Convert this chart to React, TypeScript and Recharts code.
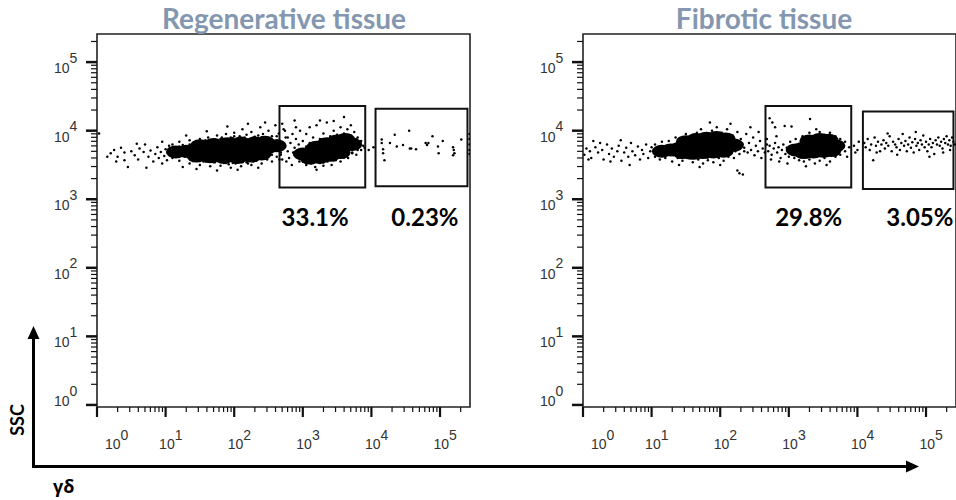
import { ScatterChart, Scatter, XAxis, YAxis, ReferenceArea, ReferenceDot } from "recharts";

// axis layout in log10 units
const X_MAX = 5.437;
const Y_MIN = -0.03;
const Y_MAX = 5.41;
const decades = [0, 1, 2, 3, 4, 5];
const minorSteps = [2, 3, 4, 5, 6, 7, 8, 9];

const panelTitles = ["Regenerative tissue", "Fibrotic tissue"];

// dense cores (log10 gd, log10 SSC)
const leftCore = [
  [1.15, 3.69], [1.3, 3.7], [1.45, 3.7], [1.6, 3.71], [1.75, 3.72], [1.9, 3.72], [2.05, 3.73], [2.2, 3.74], [2.35, 3.75], [2.5, 3.76], [2.62, 3.78],
  [1.5, 3.78], [1.7, 3.8], [1.9, 3.81], [2.1, 3.82], [2.3, 3.82], [2.45, 3.83],
  [1.45, 3.63], [1.65, 3.62], [1.85, 3.61], [2.05, 3.61], [2.25, 3.63], [2.4, 3.66],
  [3.0, 3.66], [3.12, 3.68], [3.25, 3.7], [3.38, 3.73], [3.5, 3.76], [3.62, 3.79], [3.72, 3.8],
  [3.2, 3.76], [3.35, 3.81], [3.5, 3.85], [3.62, 3.87],
  [3.1, 3.6], [3.25, 3.61], [3.4, 3.64], [3.55, 3.68],
];

const leftSparse = [
  [0.03, 3.96], [0.2, 3.67], [0.25, 3.72], [0.3, 3.62], [0.28, 3.55], [0.35, 3.75], [0.4, 3.68], [0.45, 3.47], [0.5, 3.7], [0.55, 3.64],
  [0.6, 3.58], [0.62, 3.74], [0.68, 3.69], [0.7, 3.8], [0.75, 3.62], [0.78, 3.71], [0.82, 3.55], [0.85, 3.66], [0.88, 3.76], [0.9, 3.6],
  [0.93, 3.69], [0.95, 3.84], [0.98, 3.63], [1.0, 3.73], [1.02, 3.57], [1.05, 3.78], [0.72, 3.46], [0.58, 3.81], [0.4, 3.57], [0.15, 3.62],
  [1.1, 3.8], [1.2, 3.84], [1.25, 3.79], [1.35, 3.86], [1.4, 3.82], [1.5, 3.88], [1.55, 3.84], [1.62, 3.9], [1.68, 3.86], [1.75, 3.93],
  [1.8, 3.88], [1.88, 3.95], [1.95, 3.9], [2.0, 3.97], [2.08, 3.92], [2.12, 4.02], [2.18, 3.94], [2.25, 3.98], [2.3, 3.91], [2.38, 4.05],
  [2.42, 3.95], [2.5, 4.0], [2.55, 3.92], [2.6, 4.08], [2.65, 3.96], [2.72, 4.02], [2.78, 3.9], [1.9, 4.06], [2.2, 4.1], [1.6, 3.99],
  [1.3, 3.93], [2.45, 4.12],
  [1.1, 3.6], [1.2, 3.56], [1.28, 3.62], [1.35, 3.52], [1.42, 3.58], [1.5, 3.5], [1.58, 3.55], [1.65, 3.48], [1.72, 3.54], [1.8, 3.49],
  [1.88, 3.53], [1.95, 3.46], [2.02, 3.52], [2.1, 3.48], [2.18, 3.54], [2.25, 3.5], [2.32, 3.56], [2.4, 3.52], [2.48, 3.58], [2.55, 3.55],
  [2.62, 3.62], [2.7, 3.58], [1.25, 3.47], [1.75, 3.42], [2.05, 3.43], [1.45, 3.44], [2.35, 3.46], [0.95, 3.52], [1.55, 3.62], [2.0, 3.58],
  [1.35, 3.8], [1.45, 3.84], [1.58, 3.86], [1.72, 3.87], [1.82, 3.9], [1.98, 3.89], [2.15, 3.9], [2.28, 3.9], [2.4, 3.9], [2.52, 3.88],
  [2.62, 3.86], [1.2, 3.77], [2.0, 3.92], [2.35, 3.93],
  [1.3, 3.63], [1.4, 3.57], [1.55, 3.55], [1.7, 3.54], [1.85, 3.53], [1.98, 3.53], [2.12, 3.54], [2.28, 3.55], [2.42, 3.59], [2.55, 3.65],
  [2.68, 3.68], [1.25, 3.64], [1.92, 3.51], [2.2, 3.52],
  [2.6, 3.72], [2.65, 3.85], [2.68, 3.65], [2.72, 3.78], [2.75, 3.9], [2.78, 3.7], [2.8, 3.6], [2.82, 3.82], [2.85, 3.95], [2.86, 3.68],
  [2.88, 3.75], [2.9, 3.88], [2.92, 3.62], [2.94, 3.8], [2.96, 4.0], [2.98, 3.7], [2.7, 4.1], [2.88, 4.15], [2.76, 3.55], [2.95, 3.55],
  [2.84, 3.5], [2.66, 3.58], [2.58, 3.82], [2.9, 4.05], [2.74, 4.0], [2.62, 3.92],
  [3.0, 3.85], [3.05, 3.95], [3.1, 3.82], [3.15, 3.9], [3.2, 4.08], [3.25, 3.88], [3.3, 3.96], [3.35, 4.12], [3.4, 3.92], [3.45, 4.0],
  [3.5, 3.94], [3.55, 4.05], [3.6, 3.96], [3.65, 4.02], [3.7, 3.93], [3.75, 3.98], [3.8, 3.9], [3.85, 3.85], [3.1, 4.05], [3.45, 4.14],
  [3.7, 4.08], [3.6, 4.2], [3.25, 4.15],
  [3.05, 3.77], [3.15, 3.82], [3.28, 3.87], [3.42, 3.9], [3.55, 3.93], [3.68, 3.93], [3.78, 3.88], [3.83, 3.8],
  [3.02, 3.58], [3.15, 3.53], [3.3, 3.54], [3.45, 3.57], [3.6, 3.61], [3.72, 3.67], [3.8, 3.72],
  [3.0, 3.55], [3.05, 3.5], [3.12, 3.52], [3.18, 3.47], [3.25, 3.53], [3.3, 3.49], [3.36, 3.55], [3.42, 3.5], [3.48, 3.57], [3.55, 3.55],
  [3.6, 3.62], [3.66, 3.6], [3.72, 3.68], [3.78, 3.65], [3.85, 3.72], [3.88, 3.78], [3.82, 3.82], [3.9, 3.75], [3.2, 3.43],
  [3.96, 3.72], [4.03, 3.76],
  [4.15, 3.87], [4.15, 3.82], [4.17, 3.73], [4.17, 3.67], [4.19, 3.57], [4.27, 3.82], [4.34, 3.94], [4.37, 3.77], [4.46, 3.79], [4.55, 4.0],
  [4.56, 3.74], [4.58, 3.74], [4.65, 3.73], [4.79, 3.82], [4.81, 3.79], [4.83, 3.82], [4.89, 3.92], [4.97, 3.77], [4.98, 3.67], [5.04, 3.85],
  [5.19, 3.76], [5.2, 3.72], [5.21, 3.67], [5.19, 3.64], [5.31, 3.87],
  [5.43, 3.95], [5.43, 3.88], [5.43, 3.8], [5.43, 3.72], [5.43, 3.66],
];

const rightCore = [
  [1.15, 3.7], [1.28, 3.72], [1.4, 3.74], [1.52, 3.76], [1.64, 3.78], [1.76, 3.79], [1.88, 3.8], [2.0, 3.8], [2.12, 3.8], [2.2, 3.79],
  [1.5, 3.84], [1.65, 3.87], [1.8, 3.89], [1.95, 3.9], [2.08, 3.88],
  [1.45, 3.68], [1.6, 3.67], [1.75, 3.68], [1.9, 3.69], [2.05, 3.7],
  [3.1, 3.72], [3.2, 3.74], [3.3, 3.76], [3.4, 3.78], [3.5, 3.79], [3.6, 3.79], [3.68, 3.78],
  [3.3, 3.85], [3.45, 3.87], [3.58, 3.86],
  [3.22, 3.68], [3.36, 3.69], [3.5, 3.7], [3.62, 3.71],
];

const rightSparse = [
  [0.02, 3.65], [0.05, 3.74], [0.1, 3.7], [0.12, 3.6], [0.18, 3.76], [0.22, 3.68], [0.28, 3.72], [0.3, 3.58], [0.35, 3.8], [0.38, 3.66],
  [0.42, 3.74], [0.45, 3.62], [0.5, 3.7], [0.52, 3.78], [0.56, 3.56], [0.6, 3.68], [0.63, 3.75], [0.66, 3.62], [0.7, 3.82], [0.72, 3.7],
  [0.76, 3.64], [0.8, 3.77], [0.83, 3.58], [0.86, 3.72], [0.88, 3.66], [0.92, 3.8], [0.95, 3.6], [0.98, 3.7], [1.0, 3.76], [0.25, 3.82],
  [0.55, 3.86], [0.4, 3.55], [0.15, 3.85], [0.08, 3.58], [0.68, 3.5],
  [1.05, 3.8], [1.15, 3.84], [1.25, 3.85], [1.35, 3.9], [1.42, 3.82], [1.5, 3.95], [1.58, 3.92], [1.66, 3.97], [1.72, 4.02], [1.8, 3.96],
  [1.88, 4.0], [1.95, 4.05], [2.02, 3.97], [2.1, 4.02], [2.18, 3.93], [2.25, 3.98], [2.3, 3.88], [1.85, 4.12], [2.15, 4.1],
  [1.05, 3.62], [1.12, 3.58], [1.2, 3.6], [1.3, 3.55], [1.38, 3.6], [1.45, 3.56], [1.52, 3.6], [1.6, 3.54], [1.68, 3.58], [1.75, 3.52],
  [1.82, 3.57], [1.9, 3.54], [1.98, 3.6], [2.05, 3.56], [2.12, 3.62], [2.2, 3.6], [2.28, 3.66], [2.35, 3.7], [1.4, 3.5], [1.7, 3.47], [2.0, 3.5],
  [1.25, 3.78], [1.38, 3.82], [1.48, 3.9], [1.62, 3.94], [1.78, 3.96], [1.92, 3.97], [2.05, 3.95], [2.18, 3.88], [2.26, 3.84], [1.7, 3.93], [2.0, 3.93],
  [1.2, 3.64], [1.32, 3.64], [1.42, 3.61], [1.55, 3.6], [1.68, 3.6], [1.82, 3.61], [1.96, 3.62], [2.1, 3.65], [2.22, 3.7], [2.28, 3.74],
  [2.35, 3.75], [2.4, 3.68], [2.42, 3.82], [2.45, 3.72], [2.48, 3.9], [2.5, 3.64], [2.52, 3.78], [2.55, 3.7], [2.58, 3.85], [2.6, 3.6],
  [2.62, 3.74], [2.65, 3.68], [2.68, 3.8], [2.38, 3.95], [2.28, 3.38], [2.33, 3.36], [2.25, 3.42], [2.44, 4.05], [2.56, 3.98],
  [2.7, 3.7], [2.72, 3.78], [2.75, 3.65], [2.78, 3.74], [2.8, 3.82], [2.83, 3.68], [2.85, 3.76], [2.88, 3.6], [2.9, 3.72], [2.92, 3.8],
  [2.95, 3.66], [2.97, 3.75], [3.0, 3.62], [3.02, 3.84], [2.74, 3.58], [2.86, 3.55], [2.98, 3.52], [2.68, 3.88], [2.82, 3.92], [2.72, 4.18],
  [2.76, 4.12], [2.8, 4.05], [2.94, 4.07], [3.04, 4.06], [3.31, 4.17],
  [3.18, 3.8], [3.26, 3.84], [3.38, 3.92], [3.52, 3.93], [3.64, 3.91], [3.72, 3.84], [3.78, 3.8],
  [3.12, 3.65], [3.26, 3.62], [3.42, 3.63], [3.56, 3.63], [3.68, 3.66], [3.76, 3.72],
  [3.1, 3.88], [3.2, 3.92], [3.3, 3.97], [3.38, 3.93], [3.45, 3.98], [3.52, 3.94], [3.6, 3.97], [3.68, 3.92], [3.75, 3.88], [3.82, 3.84], [3.4, 4.02],
  [3.08, 3.6], [3.15, 3.57], [3.22, 3.55], [3.3, 3.58], [3.38, 3.52], [3.45, 3.56], [3.52, 3.6], [3.6, 3.55], [3.68, 3.62], [3.75, 3.65],
  [3.82, 3.7], [3.88, 3.76], [3.85, 3.62], [3.25, 3.48], [3.55, 3.5],
  [3.95, 3.78], [4.0, 3.72], [4.02, 3.84], [3.97, 3.68],
  [4.1, 3.82], [4.12, 3.76], [4.15, 3.88], [4.18, 3.72], [4.2, 3.8], [4.23, 3.57], [4.25, 3.9], [4.27, 3.78], [4.3, 3.84], [4.33, 3.7],
  [4.35, 3.8], [4.38, 3.86], [4.4, 3.74], [4.42, 3.82], [4.45, 3.78], [4.47, 3.92], [4.5, 3.7], [4.52, 3.84], [4.55, 3.8], [4.57, 3.76],
  [4.6, 3.88], [4.62, 3.72], [4.64, 3.82], [4.66, 3.95], [4.68, 3.78], [4.7, 3.85], [4.72, 3.7], [4.74, 3.8], [4.76, 3.9], [4.78, 3.75],
  [4.8, 3.83], [4.82, 3.68], [4.84, 3.88], [4.86, 3.78], [4.88, 3.82], [4.9, 3.72], [4.92, 3.86], [4.94, 3.8], [4.96, 3.93], [4.98, 3.76],
  [5.0, 3.84], [5.02, 3.7], [5.04, 3.8], [5.06, 3.88], [5.08, 3.76], [5.1, 3.82], [5.12, 3.66], [5.14, 3.86], [5.16, 3.8], [5.18, 3.9],
  [5.2, 3.78], [5.22, 3.84], [5.24, 3.74], [5.26, 3.88], [5.28, 3.82], [5.3, 3.92], [5.32, 3.8], [5.34, 3.86], [5.36, 3.78], [5.38, 3.9],
  [5.4, 3.84], [5.42, 3.8], [4.28, 3.68], [4.58, 3.65], [4.85, 3.98], [5.05, 3.62], [5.25, 3.68], [4.44, 3.96], [5.35, 3.72],
];

// gates [x1, x2, y1, y2] in log10 units
const leftGates = [[2.66, 3.91, 3.17, 4.36], [4.06, 5.4, 3.19, 4.32]];
const rightGates = [[2.66, 3.91, 3.17, 4.36], [4.08, 5.4, 3.15, 4.28]];

const leftPercents = ["33.1%", "0.23%"];
const rightPercents = ["29.8%", "3.05%"];
const leftPercentX = [3.18, 4.78];
const rightPercentX = [3.29, 4.91];

const xTicks = [...decades, ...decades.flatMap((d) => minorSteps.map((k) => d + Math.log10(k)))].filter((v) => v <= X_MAX);
const yTicks = xTicks.filter((v) => v <= Y_MAX);

const toPts = (arr: number[][]) => arr.map(([x, y]) => ({ x, y }));

const isMajor = (v: number) => Math.abs(v - Math.round(v)) < 1e-6;
const tickFont = "'Liberation Sans', Arial, sans-serif";

const XTick = (props: any) => {
  const { x, y, payload } = props;
  const v = payload.value;
  const major = isMajor(v);
  return (
    <g>
      <line x1={x} x2={x} y1={y} y2={y + (major ? 10 : 5)} stroke="#111" strokeWidth={major ? 2.2 : 1.2} />
      {major && (
        <text x={x + (v === 0 ? 8 : -6.5)} y={y + 42} fontFamily={tickFont} fontSize={14} fill="#333">
          10<tspan dy={-9.5}>{Math.round(v)}</tspan>
        </text>
      )}
    </g>
  );
};

const YTick = (props: any) => {
  const { x, y, payload } = props;
  const v = payload.value;
  const major = isMajor(v);
  return (
    <g>
      <line x1={x - (major ? 11 : 6)} x2={x} y1={y} y2={y} stroke="#111" strokeWidth={major ? 2.5 : 1.2} />
      {major && (
        <text x={x - 43} y={y + (Math.round(v) === 0 ? 1.5 : 11)} fontFamily={tickFont} fontSize={14} fill="#333">
          10<tspan dy={-10.5}>{Math.round(v)}</tspan>
        </text>
      )}
    </g>
  );
};

const Blob = (p: any) => <ellipse cx={p.cx} cy={p.cy} rx={10} ry={6.5} fill="#000" />;
const Speck = (p: any) => <circle cx={p.cx} cy={p.cy} r={1.25} fill="#000" />;

function Panel({ left, core, sparse, gates, percents, percentX }: any) {
  return (
    <div style={{ position: "absolute", left, top: 0 }}>
      <ScatterChart width={480} height={457} margin={{ top: 34, right: 10, bottom: 0, left: 0 }}>
        <XAxis type="number" dataKey="x" domain={[0, X_MAX]} ticks={xTicks} interval={0} tick={<XTick />}
          tickLine={false} axisLine={false} tickSize={0} tickMargin={0} height={50} allowDataOverflow />
        <YAxis type="number" dataKey="y" domain={[Y_MIN, Y_MAX]} ticks={yTicks} interval={0} tick={<YTick />}
          tickLine={false} axisLine={false} tickSize={0} tickMargin={0} width={97} allowDataOverflow />
        <Scatter data={toPts(core)} shape={Blob} isAnimationActive={false} />
        <Scatter data={toPts(sparse)} shape={Speck} isAnimationActive={false} />
        <ReferenceArea x1={0} x2={X_MAX} y1={Y_MIN} y2={Y_MAX} fill="none" stroke="#222" strokeWidth={1.6} />
        {gates.map((g: number[], i: number) => (
          <ReferenceArea key={i} x1={g[0]} x2={g[1]} y1={g[2]} y2={g[3]} fill="none" stroke="#111" strokeWidth={2} />
        ))}
        {percents.map((t: string, i: number) => (
          <ReferenceDot key={t} x={percentX[i]} y={2.74} r={0.01} fill="none" stroke="none"
            label={{ value: t, position: "center", fill: "#000", fontSize: 24, fontWeight: 700, fontFamily: "Lato, 'Open Sans', sans-serif" }} />
        ))}
      </ScatterChart>
    </div>
  );
}

export default function App() {
  const titleStyle = { fontFamily: "Lato, 'Open Sans', sans-serif", fontWeight: 700, fontSize: 28, fill: "#8497B0" };
  return (
    <div style={{ position: "absolute", left: 0, top: 0, width: 956, height: 500, overflow: "hidden", background: "#fff" }}>
      <Panel left={0} core={leftCore} sparse={leftSparse} gates={leftGates} percents={leftPercents} percentX={leftPercentX} />
      <Panel left={486} core={rightCore} sparse={rightSparse} gates={rightGates} percents={rightPercents} percentX={rightPercentX} />
      <svg width={956} height={500} style={{ position: "absolute", left: 0, top: 0, pointerEvents: "none" }}>
        <text x={284} y={29} textAnchor="middle" {...titleStyle}>{panelTitles[0]}</text>
        <text x={764} y={29} textAnchor="middle" {...titleStyle}>{panelTitles[1]}</text>
        <line x1={33.5} y1={467} x2={33.5} y2={336} stroke="#000" strokeWidth={3} />
        <polygon points="33.5,326 27.5,339 39.5,339" fill="#000" />
        <line x1={32} y1={466.5} x2={908} y2={466.5} stroke="#000" strokeWidth={3} />
        <polygon points="919,466.5 906,460.5 906,472.5" fill="#000" />
        <text x={24} y={420} transform="rotate(-90 24 420)" textAnchor="middle" fontFamily="Lato, 'Open Sans', sans-serif" fontWeight={700} fontSize={18} fill="#000">SSC</text>
        <text x={53} y={493} fontFamily="'Open Sans', sans-serif" fontWeight={700} fontSize={18} fill="#000">γδ</text>
      </svg>
    </div>
  );
}
